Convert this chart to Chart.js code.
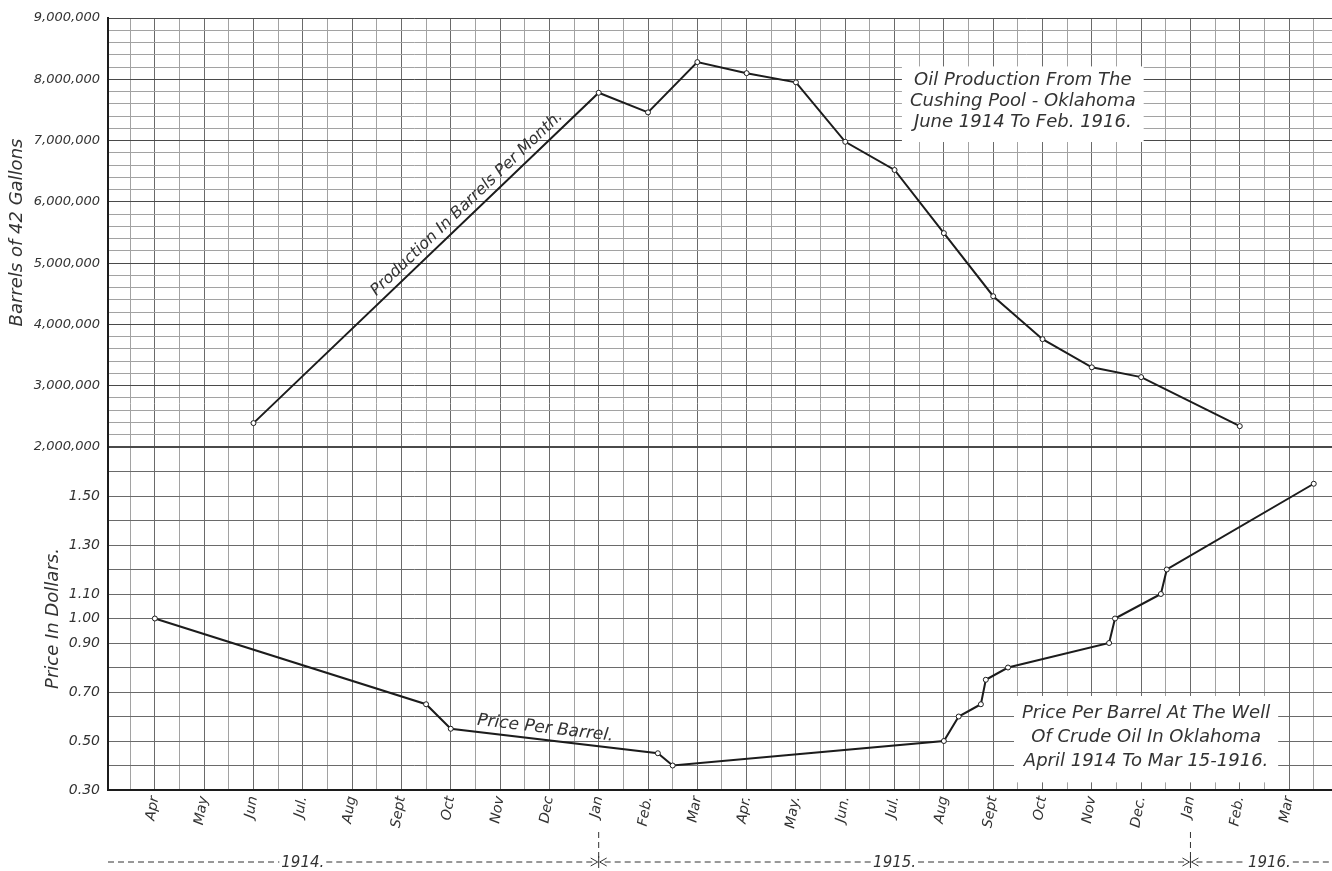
<!DOCTYPE html>
<html>
<head>
<meta charset="utf-8">
<title>Oil Production From The Cushing Pool - Oklahoma</title>
<script src="https://cdn.jsdelivr.net/npm/chart.js@4"></script>
<style>
  html, body { margin: 0; padding: 0; background: #fff; }
  #wrap { width: 1332px; height: 871px; position: relative; }
</style>
</head>
<body>
<div id="wrap"><canvas id="oilChart"></canvas></div>
<script>
// month labels, Apr 1914 = 0
var months = ["Apr", "May", "Jun", "Jul.", "Aug", "Sept", "Oct", "Nov", "Dec",
              "Jan", "Feb.", "Mar", "Apr.", "May.", "Jun.", "Jul.", "Aug", "Sept",
              "Oct", "Nov", "Dec.", "Jan", "Feb.", "Mar"];

// production in barrels per month (Cushing pool)
var prodMonth = [2, 9, 10, 11, 12, 13, 14, 15, 16, 17, 18, 19, 20, 22];
var prodBarrels = [2390000, 7780000, 7460000, 8280000, 8100000, 7950000, 6980000,
                   6520000, 5490000, 4460000, 3760000, 3300000, 3140000, 2340000];

// price per barrel at the well
var priceMonth = [0, 5.5, 6, 10.2, 10.5, 16, 16.3, 16.75, 16.85, 17.3, 19.35, 19.47, 20.4, 20.52, 23.5];
var priceDollars = [1.00, 0.65, 0.55, 0.45, 0.40, 0.50, 0.60, 0.65, 0.75, 0.80, 0.90, 1.00, 1.10, 1.20, 1.55];

// labelled ticks
var prodLabels = [2000000, 3000000, 4000000, 5000000, 6000000, 7000000, 8000000, 9000000];
var priceLabels = [0.30, 0.50, 0.70, 0.90, 1.00, 1.10, 1.30, 1.50];

// year bar under the month labels
var years = ["1914.", "1915.", "1916."];
var yearMid = [3, 15, 22.6];
var yearBreaks = [9, 21];

var FONT = "'DejaVu Sans', sans-serif";
Chart.defaults.font.family = FONT;
Chart.defaults.font.style = "italic";
Chart.defaults.color = "#333";

function pairs(xs, ys) {
    return xs.map(function (x, i) { return { x: x, y: ys[i] }; });
}

function steps(min, max, step) {
    var out = [];
    var n = Math.round((max - min) / step);
    for (var i = 0; i <= n; i++) out.push({ value: +(min + i * step).toFixed(4) });
    return out;
}

function isLabel(list, v) {
    return list.some(function (l) { return Math.abs(l - v) < 1e-6; });
}

function labelAlong(ctx, meta, i, t, text, lift) {
    var a = meta.data[i], b = meta.data[i + 1];
    var px = a.x + (b.x - a.x) * t, py = a.y + (b.y - a.y) * t;
    ctx.save();
    ctx.translate(px, py);
    ctx.rotate(Math.atan2(b.y - a.y, b.x - a.x));
    ctx.textAlign = "center";
    ctx.textBaseline = "bottom";
    ctx.fillText(text, 0, -lift);
    ctx.restore();
}

function noteBox(ctx, cx, top, lines, lineH, padX) {
    var w = 0;
    lines.forEach(function (l) { w = Math.max(w, ctx.measureText(l).width); });
    ctx.fillStyle = "#fff";
    ctx.fillRect(cx - w / 2 - padX, top - lineH + 2, w + padX * 2, lineH * (lines.length + 0.6));
    ctx.fillStyle = "#333";
    ctx.textAlign = "center";
    ctx.textBaseline = "alphabetic";
    lines.forEach(function (l, k) { ctx.fillText(l, cx, top + k * lineH); });
}

var notesPlugin = {
    id: "notes",
    afterDatasetsDraw: function (chart) {
        var ctx = chart.ctx;
        var x = chart.scales.x, yP = chart.scales.yProd, yD = chart.scales.yPrice;
        ctx.save();
        ctx.fillStyle = "#333";

        ctx.font = "italic 16px " + FONT;
        labelAlong(ctx, chart.getDatasetMeta(0), 0, 0.64, "Production In Barrels Per Month.", 3);
        ctx.font = "italic 17px " + FONT;
        labelAlong(ctx, chart.getDatasetMeta(1), 2, 0.45, "Price Per Barrel.", 3);

        ctx.font = "italic 18px " + FONT;
        noteBox(ctx, x.getPixelForValue(17.6), yP.getPixelForValue(7900000),
                ["Oil Production From The", "Cushing Pool - Oklahoma", "June 1914 To Feb. 1916."], 21, 8);
        noteBox(ctx, x.getPixelForValue(20.1), yD.getPixelForValue(0.594),
                ["Price Per Barrel At The Well", "Of Crude Oil In Oklahoma", "April 1914 To Mar 15-1916."], 24, 8);

        // year bar
        var by = chart.chartArea.bottom + 72;
        var top = chart.chartArea.bottom + 42;
        ctx.font = "italic 15px " + FONT;
        ctx.textAlign = "center";
        ctx.textBaseline = "middle";
        ctx.strokeStyle = "#333";
        ctx.lineWidth = 1;
        ctx.setLineDash([6, 4]);
        var p = [x.left];
        years.forEach(function (yr, k) {
            var cx = x.getPixelForValue(yearMid[k]);
            var w = ctx.measureText(yr).width;
            ctx.fillText(yr, cx, by + 1);
            p.push(cx - w / 2 - 2, cx + w / 2 + 2);
            if (k < yearBreaks.length) p.push(x.getPixelForValue(yearBreaks[k]));
        });
        p.push(x.right);
        // segments: left..1914, 1914..break, break..1915, 1915..break, break..1916, 1916..right
        var segs = [[p[0], p[1]], [p[2], p[3] - 6], [p[3] + 6, p[4]],
                    [p[5], p[6] - 6], [p[6] + 6, p[7]], [p[8], p[9]]];
        ctx.beginPath();
        segs.forEach(function (sg) { ctx.moveTo(sg[0], by); ctx.lineTo(sg[1], by); });
        yearBreaks.forEach(function (m) {
            var bx = x.getPixelForValue(m);
            ctx.moveTo(bx, top);
            ctx.lineTo(bx, by);
        });
        ctx.stroke();
        ctx.setLineDash([]);
        ctx.beginPath();
        yearBreaks.forEach(function (m) {
            var bx = x.getPixelForValue(m);
            ctx.moveTo(bx - 8, by - 4); ctx.lineTo(bx - 1, by); ctx.lineTo(bx - 8, by + 4);
            ctx.moveTo(bx + 8, by - 4); ctx.lineTo(bx + 1, by); ctx.lineTo(bx + 8, by + 4);
            ctx.moveTo(bx, by - 6); ctx.lineTo(bx, by + 6);
        });
        ctx.stroke();
        ctx.restore();
    }
};

var ctx = document.getElementById("oilChart").getContext("2d");
new Chart(ctx, {
    type: "line",
    data: {
        datasets: [{
            label: "Production In Barrels Per Month",
            data: pairs(prodMonth, prodBarrels),
            yAxisID: "yProd",
            borderColor: "#1c1c1c",
            borderWidth: 2,
            pointRadius: 2.5,
            pointBackgroundColor: "#fff",
            pointBorderColor: "#1c1c1c",
            pointBorderWidth: 1,
            tension: 0
        }, {
            label: "Price Per Barrel",
            data: pairs(priceMonth, priceDollars),
            yAxisID: "yPrice",
            borderColor: "#1c1c1c",
            borderWidth: 2,
            pointRadius: 2.5,
            pointBackgroundColor: "#fff",
            pointBorderColor: "#1c1c1c",
            pointBorderWidth: 1,
            tension: 0
        }]
    },
    options: {
        responsive: true,
        maintainAspectRatio: false,
        animation: false,
        layout: { autoPadding: false, padding: { top: 18, right: 0, bottom: 0, left: 0 } },
        plugins: { legend: { display: false }, tooltip: { enabled: false } },
        scales: {
            x: {
                type: "linear",
                min: -0.95,
                max: 23.87,
                afterBuildTicks: function (s) { s.ticks = steps(-0.5, 23.5, 0.5); },
                afterFit: function (s) { s.height = 81; s.paddingLeft = 0; s.paddingRight = 0; },
                ticks: {
                    autoSkip: false,
                    minRotation: 80,
                    maxRotation: 80,
                    padding: 5,
                    font: { size: 14, style: "italic" },
                    callback: function (v) {
                        return Number.isInteger(v) && v >= 0 && v < months.length ? months[v] : "";
                    }
                },
                grid: {
                    drawTicks: false,
                    color: function (c) { return c.tick && Number.isInteger(c.tick.value) ? "#6a6a6a" : "#a2a2a2"; }
                },
                border: { color: "#1c1c1c", width: 2 }
            },
            // stacked panels: the axis listed first sits at the bottom
            yPrice: {
                type: "linear",
                position: "left",
                stack: "panels",
                stackWeight: 343,
                min: 0.30,
                max: 1.70,
                afterBuildTicks: function (s) { s.ticks = steps(0.30, 1.70, 0.10); },
                afterFit: function (s) { s.width = 108; },
                ticks: {
                    autoSkip: false,
                    padding: 8,
                    font: { size: 14, style: "italic" },
                    callback: function (v) { return isLabel(priceLabels, v) ? v.toFixed(2) : ""; }
                },
                grid: {
                    drawTicks: false,
                    color: function (c) { return c.tick && Math.abs(c.tick.value - 1.7) < 1e-6 ? "#1c1c1c" : "#6a6a6a"; },
                    lineWidth: function (c) { return c.tick && Math.abs(c.tick.value - 1.7) < 1e-6 ? 2 : 1; }
                },
                border: { color: "#1c1c1c", width: 2 },
                title: { display: true, text: "Price In Dollars.", padding: { top: 43, bottom: 0 },
                         font: { size: 18, style: "italic" } }
            },
            yProd: {
                type: "linear",
                position: "left",
                stack: "panels",
                stackWeight: 429,
                min: 2000000,
                max: 9000000,
                afterBuildTicks: function (s) { s.ticks = steps(2000000, 9000000, 200000); },
                afterFit: function (s) { s.width = 108; },
                ticks: {
                    autoSkip: false,
                    padding: 8,
                    font: { size: 13, style: "italic" },
                    callback: function (v) { return isLabel(prodLabels, v) ? v.toLocaleString("en-US") : ""; }
                },
                grid: {
                    drawTicks: false,
                    color: function (c) { return c.tick && c.tick.value % 1000000 === 0 ? "#4a4a4a" : "#a2a2a2"; },
                    lineWidth: function (c) { return c.tick && (c.tick.value === 2000000) ? 2 : 1; }
                },
                border: { color: "#1c1c1c", width: 2 },
                title: { display: true, text: "Barrels of 42 Gallons", padding: { top: 7, bottom: 0 },
                         font: { size: 18, style: "italic" } }
            }
        }
    },
    plugins: [notesPlugin]
});
</script>
</body>
</html>
